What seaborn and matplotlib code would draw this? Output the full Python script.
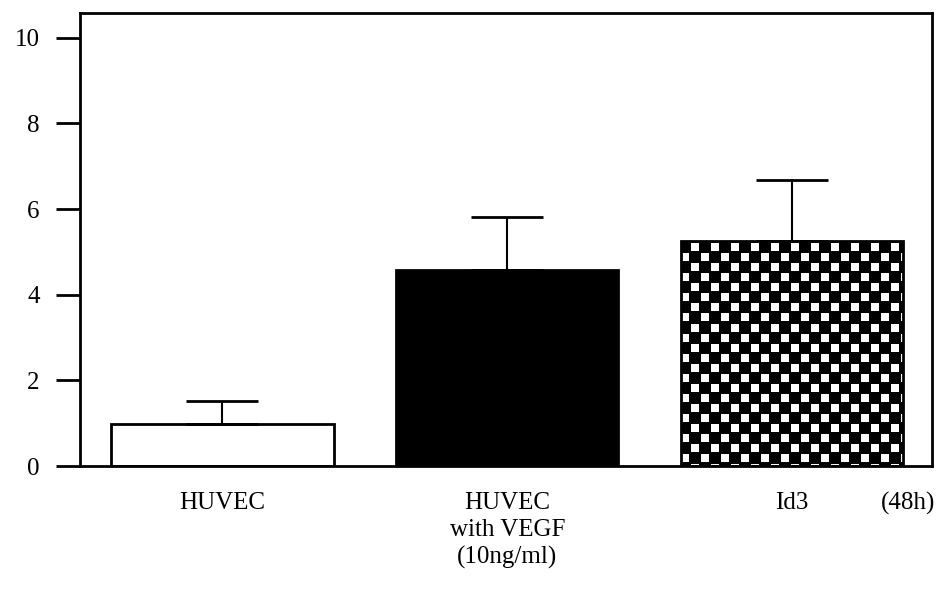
import numpy as np
import pandas as pd
import matplotlib
matplotlib.use("Agg")
import matplotlib.pyplot as plt
import seaborn as sns

categories = ["HUVEC", "HUVEC\nwith VEGF\n(10ng/ml)", "Id3"]
means = [0.98, 4.58, 5.26]
errors = [0.54, 1.24, 1.42]
yticks = [0, 2, 4, 6, 8, 10]
note = "(48h)"

sns.set_theme(style="white")
plt.rcParams["font.family"] = ["Liberation Serif", "DejaVu Serif"]

fig = plt.figure(figsize=(9.48, 5.89), dpi=100)
ax = fig.add_axes([0.0844, 0.2088, 0.983 - 0.0844, 0.978 - 0.2088])

df = pd.DataFrame({"group": categories, "value": means})
sns.barplot(data=df, x="group", y="value", hue="group", legend=False,
            palette=["white", "black", "black"], edgecolor="black",
            linewidth=2, width=0.78, saturation=1, ax=ax, errorbar=None)

xs = np.arange(len(categories))
ax.errorbar(xs, means, yerr=[np.zeros(len(errors)), errors], fmt="none",
            ecolor="black", elinewidth=1.5, capsize=26, capthick=2, zorder=1)

# checker pattern for the third bar, clipped to the bar patch
bar3 = ax.patches[2]
bb = ax.bbox
H, W = int(round(bb.height)), int(round(bb.width))
iy, ix = np.indices((H, W))
cell = 10
white = (((iy // cell + ix // cell) % 2 == 0)
         & (iy % cell >= 1) & (iy % cell <= 8)
         & (ix % cell >= 1) & (ix % cell <= 8))
checker = white.astype(float)
im = ax.imshow(checker, cmap="gray", vmin=0, vmax=1, extent=(0, 1, 0, 1),
               transform=ax.transAxes, aspect="auto", interpolation="nearest",
               zorder=2)
im.set_clip_path(bar3)
bar3.set_zorder(3)
bar3.set_facecolor("none")

ax.set_xlim(-0.5, 2.49)
ax.set_ylim(0, 10.58)
ax.set_yticks(yticks)
ax.set_yticklabels([str(t) for t in yticks])
ax.set_xlabel("")
ax.set_ylabel("")

for s in ax.spines.values():
    s.set_visible(True)
    s.set_color("black")
    s.set_linewidth(2)

ax.tick_params(axis="y", direction="out", length=17, width=2, color="black",
               labelsize=18, pad=12, left=True, labelcolor="black")
ax.tick_params(axis="x", length=0, pad=19, labelsize=18, labelcolor="black")
for lab in ax.get_xticklabels():
    lab.set_linespacing(1.27)
    lab.set_verticalalignment("top")

ax.annotate(note, xy=(0.94, 0), xycoords="axes fraction", xytext=(0, -19),
            textcoords="offset points", ha="left", va="top",
            fontsize=18, color="black")

fig.savefig("out.png", dpi=100)
